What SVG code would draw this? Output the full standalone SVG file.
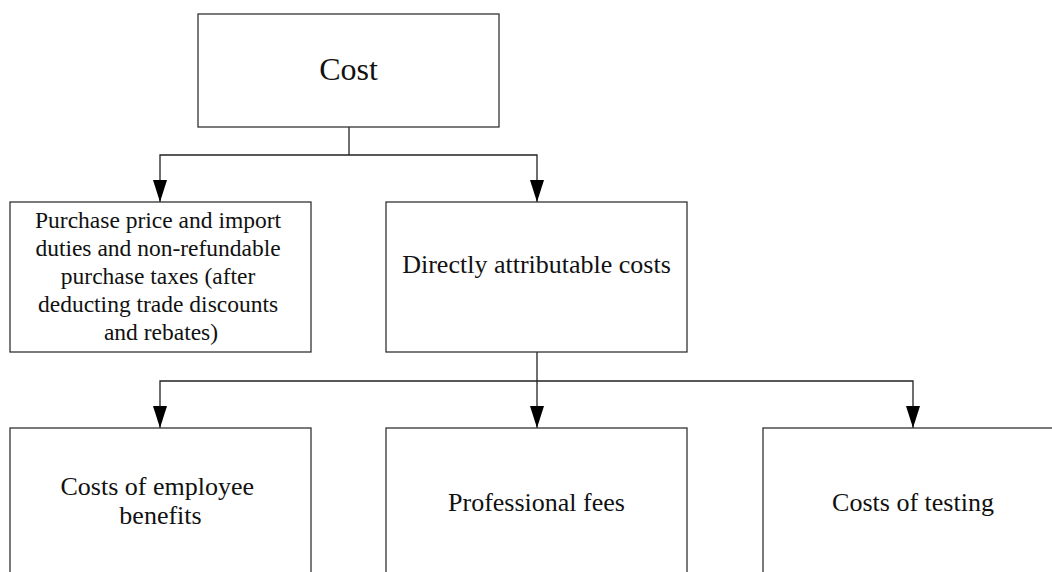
<svg xmlns="http://www.w3.org/2000/svg" width="1052" height="572" viewBox="0 0 1052 572">
  <style>
    .box { fill: #ffffff; stroke: #333333; stroke-width: 1.3; }
    .lbl { font-family: "Liberation Serif", "Times New Roman", serif; fill: #111111; text-anchor: middle; }
    .wire { fill: none; stroke: #222222; stroke-width: 1.3; }
  </style>
  <defs>
    <marker id="arrow" viewBox="0 0 22 14" refX="22" refY="7" markerWidth="22" markerHeight="14" markerUnits="userSpaceOnUse" orient="auto">
      <path d="M0,0 L22,7 L0,14 z" fill="#000000"/>
    </marker>
  </defs>
  <rect width="1052" height="572" fill="#ffffff"/>

  <g id="connectors">
    <path class="wire" d="M349,127 V155"/>
    <path class="wire" d="M349,155 H160 V202" marker-end="url(#arrow)"/>
    <path class="wire" d="M349,155 H537 V202" marker-end="url(#arrow)"/>
    <path class="wire" d="M537,352 V381"/>
    <path class="wire" d="M537,381 H160 V428" marker-end="url(#arrow)"/>
    <path class="wire" d="M537,381 V428" marker-end="url(#arrow)"/>
    <path class="wire" d="M537,381 H913 V428" marker-end="url(#arrow)"/>
  </g>

  <g id="cost">
    <rect class="box" x="198" y="14" width="301" height="113"/>
    <text class="lbl" x="348.5" y="80" font-size="32">Cost</text>
  </g>

  <g id="purchase-price">
    <rect class="box" x="10" y="202" width="301" height="150"/>
    <text class="lbl" font-size="23.5">
      <tspan x="161" y="227.5">Purchase price and import</tspan>
      <tspan x="161" y="255.5">duties and non-refundable</tspan>
      <tspan x="161" y="283.5">purchase taxes (after</tspan>
      <tspan x="161" y="311.5">deducting trade discounts</tspan>
      <tspan x="161" y="339.5">and rebates)</tspan>
    </text>
  </g>

  <g id="directly-attributable">
    <rect class="box" x="386" y="202" width="301" height="150"/>
    <text class="lbl" x="536.5" y="273" font-size="26">Directly attributable costs</text>
  </g>

  <g id="employee-benefits">
    <rect class="box" x="10" y="428" width="301" height="160"/>
    <text class="lbl" font-size="26">
      <tspan x="160.5" y="495">Costs of employee</tspan>
      <tspan x="160.5" y="524">benefits</tspan>
    </text>
  </g>

  <g id="professional-fees">
    <rect class="box" x="386" y="428" width="301" height="160"/>
    <text class="lbl" x="536.5" y="511" font-size="26">Professional fees</text>
  </g>

  <g id="testing">
    <rect class="box" x="763" y="428" width="301" height="160"/>
    <text class="lbl" x="913" y="511" font-size="26">Costs of testing</text>
  </g>
</svg>
